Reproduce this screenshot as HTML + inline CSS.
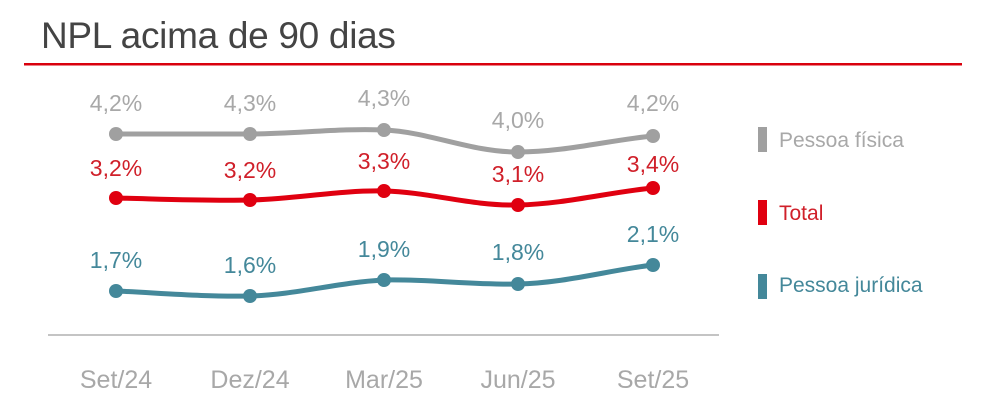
<!DOCTYPE html>
<html><head><meta charset="utf-8"><style>
html,body{margin:0;padding:0;background:#fff;}
svg{display:block;font-family:"Liberation Sans",sans-serif;}
</style></head><body>
<svg width="987" height="405" viewBox="0 0 987 405" xmlns="http://www.w3.org/2000/svg">
<text x="41" y="48" font-size="37" fill="#444" letter-spacing="-0.3">NPL acima de 90 dias</text>
<rect x="24" y="63" width="938" height="2.5" fill="#d9000d"/>
<line x1="48" y1="335" x2="719" y2="335" stroke="#b0b0b0" stroke-width="1.5"/>
<g fill="none" stroke-width="5" stroke-linecap="round">
<path d="M116,134 C160,134 205,134 250,134 C295,134 340,128 384,130 C430,132 470,152 518,152 C565,152 610,140 653,136" stroke="#a0a0a0"/>
<path d="M116,198 C160,199 205,201 250,200 C295,199 340,190 384,191 C430,192 470,206 518,205 C565,204 610,192 653,188" stroke="#e00010"/>
<path d="M116,291 C160,293 205,297 250,296 C295,295 340,282 384,280 C430,279 470,285 518,284 C565,283 610,270 653,265" stroke="#44889a"/>
</g>
<g fill="#a0a0a0"><circle cx="116" cy="134" r="7"/><circle cx="250" cy="134" r="7"/><circle cx="384" cy="130" r="7"/><circle cx="518" cy="152" r="7"/><circle cx="653" cy="136" r="7"/></g>
<g fill="#e00010"><circle cx="116" cy="198" r="7"/><circle cx="250" cy="200" r="7"/><circle cx="384" cy="191" r="7"/><circle cx="518" cy="205" r="7"/><circle cx="653" cy="188" r="7"/></g>
<g fill="#44889a"><circle cx="116" cy="291" r="7"/><circle cx="250" cy="296" r="7"/><circle cx="384" cy="280" r="7"/><circle cx="518" cy="284" r="7"/><circle cx="653" cy="265" r="7"/></g>
<g font-size="23" text-anchor="middle">
<g fill="#a8a8a8"><text x="116" y="111">4,2%</text><text x="250" y="111">4,3%</text><text x="384" y="106">4,3%</text><text x="518" y="128">4,0%</text><text x="653" y="111">4,2%</text></g>
<g fill="#d0202a"><text x="116" y="176">3,2%</text><text x="250" y="178">3,2%</text><text x="384" y="169">3,3%</text><text x="518" y="182">3,1%</text><text x="653" y="172">3,4%</text></g>
<g fill="#44889a"><text x="116" y="268">1,7%</text><text x="250" y="273">1,6%</text><text x="384" y="257">1,9%</text><text x="518" y="260">1,8%</text><text x="653" y="242">2,1%</text></g>
</g>
<g font-size="25" text-anchor="middle" fill="#a8a8a8"><text x="116" y="388">Set/24</text><text x="250" y="388">Dez/24</text><text x="384" y="388">Mar/25</text><text x="518" y="388">Jun/25</text><text x="653" y="388">Set/25</text></g>
<rect x="758" y="127" width="9" height="25" fill="#a0a0a0"/>
<rect x="758" y="200" width="9" height="25" fill="#e00010"/>
<rect x="758" y="274" width="9" height="25" fill="#44889a"/>
<g font-size="21">
<text x="779" y="147" fill="#a8a8a8">Pessoa física</text>
<text x="779" y="220" fill="#d0202a">Total</text>
<text x="779" y="292" fill="#44889a">Pessoa jurídica</text>
</g>
</svg>
</body></html>
